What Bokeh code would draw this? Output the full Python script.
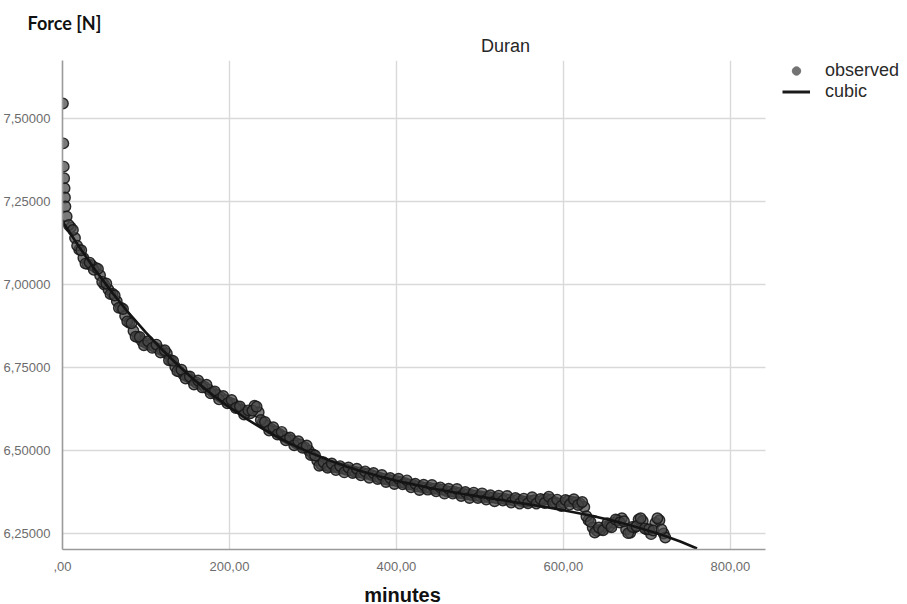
from bokeh.plotting import figure
from bokeh.models import Range1d, FixedTicker, Legend, LegendItem, ColumnDataSource, Label
from bokeh.embed import file_html
from bokeh.resources import INLINE

# ---------------- data ----------------
start_minutes = [0.5, 1.0, 1.5, 2.0, 2.5, 3.0, 3.5]
start_force = [7.545, 7.425, 7.355, 7.320, 7.290, 7.262, 7.235]

obs_minutes = list(range(5, 725, 5)) + [722]
obs_force = [
    7.205, 7.172, 7.140, 7.105, 7.080, 7.062, 7.058, 7.050, 7.028, 7.000,
    6.985, 6.972, 6.950, 6.930, 6.905, 6.885, 6.860, 6.842, 6.830, 6.824,
    6.818, 6.812, 6.806, 6.800, 6.792, 6.772, 6.752, 6.738, 6.728, 6.722,
    6.712, 6.705, 6.700, 6.692, 6.684, 6.676, 6.668, 6.660, 6.652, 6.645,
    6.640, 6.632, 6.622, 6.615, 6.612, 6.635, 6.615, 6.585, 6.575, 6.565,
    6.558, 6.550, 6.542, 6.536, 6.530, 6.522, 6.518, 6.510, 6.500, 6.488,
    6.470, 6.458, 6.455, 6.452, 6.450, 6.448, 6.446, 6.442, 6.440, 6.436,
    6.434, 6.432, 6.430, 6.426, 6.422, 6.418, 6.414, 6.412, 6.410, 6.408,
    6.405, 6.402, 6.398, 6.396, 6.392, 6.390, 6.388, 6.387, 6.385, 6.384,
    6.382, 6.378, 6.376, 6.375, 6.372, 6.370, 6.368, 6.366, 6.364, 6.362,
    6.360, 6.360, 6.358, 6.356, 6.355, 6.354, 6.352, 6.350, 6.352, 6.348,
    6.346, 6.348, 6.350, 6.346, 6.350, 6.354, 6.352, 6.344, 6.340, 6.342,
    6.348, 6.346, 6.344, 6.340, 6.330, 6.290, 6.268, 6.258, 6.262, 6.270,
    6.272, 6.282, 6.290, 6.296, 6.262, 6.252, 6.268, 6.292, 6.288, 6.262,
    6.248, 6.282, 6.290, 6.250,
    6.238,
]

mid_minutes = [m + 2.5 for m in range(5, 720, 5)]
mid_force = [
    7.179, 7.164, 7.117, 7.103, 7.063, 7.066, 7.044, 7.047, 7.008, 7.003,
    6.971, 6.967, 6.930, 6.926, 6.889, 6.883, 6.843, 6.842, 6.817, 6.829,
    6.809, 6.819, 6.795, 6.802, 6.772, 6.770, 6.739, 6.743, 6.717, 6.723,
    6.699, 6.711, 6.690, 6.698, 6.672, 6.678, 6.654, 6.664, 6.642, 6.652,
    6.628, 6.633, 6.608, 6.621, 6.620, 6.632, 6.592, 6.586, 6.560, 6.570,
    6.548, 6.556, 6.531, 6.539, 6.516, 6.528, 6.508, 6.515, 6.486, 6.485,
    6.454, 6.465, 6.448, 6.461, 6.441, 6.453, 6.434, 6.449, 6.432, 6.445,
    6.425, 6.437, 6.418, 6.432, 6.414, 6.426, 6.405, 6.417, 6.399, 6.415,
    6.398, 6.410, 6.389, 6.400, 6.381, 6.397, 6.382, 6.396, 6.377, 6.389,
    6.370, 6.385, 6.370, 6.384, 6.363, 6.375, 6.357, 6.373, 6.357, 6.371,
    6.352, 6.365, 6.347, 6.364, 6.349, 6.363, 6.343, 6.357, 6.340, 6.355,
    6.341, 6.359, 6.340, 6.354, 6.342, 6.361, 6.342, 6.352, 6.333, 6.351,
    6.337, 6.353, 6.336, 6.345, 6.302, 6.285, 6.253, 6.268, 6.260, 6.281,
    6.269, 6.292, 6.283, 6.287, 6.251, 6.270, 6.272, 6.296, 6.265, 6.263,
    6.259, 6.296, 6.262,
]

fit_minutes = list(range(0, 780, 20))
fit_force = [
    7.190, 7.113, 7.041, 6.974, 6.912, 6.855, 6.802, 6.753, 6.708, 6.667,
    6.630, 6.596, 6.565, 6.537, 6.512, 6.490, 6.470, 6.452, 6.436, 6.422,
    6.409, 6.398, 6.387, 6.378, 6.369, 6.361, 6.353, 6.345, 6.337, 6.329,
    6.320, 6.310, 6.300, 6.288, 6.275, 6.260, 6.244, 6.226, 6.205,
]

x_ticks = [0, 200, 400, 600, 800]
x_tick_labels = [",00", "200,00", "400,00", "600,00", "800,00"]
y_ticks = [6.25, 6.5, 6.75, 7.0, 7.25, 7.5]
y_tick_labels = ["6,25000", "6,50000", "6,75000", "7,00000", "7,25000", "7,50000"]
x_axis_extent = (0, 842)          # drawn part of the x axis
y_axis_extent = (6.2018, 7.6747)

title_text = "Duran"
y_title = "Force [N]"
x_title = "minutes"
legend_labels = ["observed", "cubic"]

# ---------------- figure ----------------
W, H = 907, 604
LEFT, TOP, BOTTOM = 62, 60, 55
frame_w = W - LEFT
px_per_min = 703.0 / (x_axis_extent[1] - x_axis_extent[0])
p = figure(width=W, height=H, output_backend="svg", toolbar_location=None,
           x_range=Range1d(0, frame_w / px_per_min), y_range=Range1d(*y_axis_extent),
           min_border_left=LEFT, min_border_right=0, min_border_top=TOP, min_border_bottom=BOTTOM)
p.outline_line_color = None
p.background_fill_color = "white"
p.border_fill_color = "white"

for ax, ticks, labels in ((p.xaxis[0], x_ticks, x_tick_labels), (p.yaxis[0], y_ticks, y_tick_labels)):
    ax.ticker = FixedTicker(ticks=ticks)
    ax.major_label_overrides = {t: l for t, l in zip(ticks, labels)}
    ax.major_tick_line_color = None
    ax.minor_tick_line_color = None
    ax.major_label_text_font = "Liberation Sans"
    ax.major_label_text_font_size = "13px"
    ax.major_label_text_color = "#6c6c6c"
    ax.major_label_standoff = 6
    ax.axis_line_color = "#9a9a9a"
    ax.axis_line_width = 1.6
p.xaxis[0].bounds = x_axis_extent

grid_color, grid_width = "#d9d9d9", 1.4
p.xgrid.ticker = FixedTicker(ticks=x_ticks)
p.xgrid.grid_line_color = grid_color
p.xgrid.grid_line_width = grid_width
p.ygrid.visible = False
# horizontal grid lines, limited to the axis extent
p.segment(x0=[x_axis_extent[0]] * len(y_ticks), x1=[x_axis_extent[1]] * len(y_ticks),
          y0=y_ticks, y1=y_ticks, line_color=grid_color, line_width=grid_width)

obs_src = ColumnDataSource(dict(x=start_minutes + obs_minutes + mid_minutes,
                                y=start_force + obs_force + mid_force))
r_obs = p.scatter("x", "y", source=obs_src, marker="circle", size=10.5,
                  fill_color="#474747", fill_alpha=0.72, line_color="#181818", line_alpha=0.9, line_width=1.4)
# legend swatch style for "observed" (same data, not drawn in the plot)
r_obs_key = p.scatter("x", "y", source=obs_src, marker="circle", size=8,
                      fill_color="#737373", line_color="#737373", visible=False)

fit_src = ColumnDataSource(dict(x=fit_minutes, y=fit_force))
r_fit = p.line("x", "y", source=fit_src, line_color="#141414", line_width=2.6)
r_fit_key = p.line("x", "y", source=fit_src, line_color="#1a1a1a", line_width=3, visible=False)

legend = Legend(items=[LegendItem(label=legend_labels[0], renderers=[r_obs_key], index=0),
                       LegendItem(label=legend_labels[1], renderers=[r_fit_key])],
                location=(720, 447), orientation="vertical",
                border_line_color=None, background_fill_alpha=0,
                glyph_width=28, glyph_height=21, label_height=21, spacing=0,
                padding=0, margin=0, label_standoff=15,
                label_text_font="Liberation Sans", label_text_font_size="18px",
                label_text_color="#2a2a2a", label_text_baseline="middle")
p.add_layout(legend, "center")

# texts placed in the side panels (screen units relative to each panel slot)
p.add_layout(Label(x=443, y=15, x_units="screen", y_units="screen", text=title_text,
                   text_font="Liberation Sans", text_font_size="18px", text_color="#262626",
                   text_align="center", text_baseline="middle"), "above")
p.add_layout(Label(x=-35, y=18, x_units="screen", y_units="screen", text=y_title,
                   text_font="Lato", text_font_style="bold", text_font_size="18px", text_color="#111111",
                   text_align="left", text_baseline="middle"), "above")
p.add_layout(Label(x=340, y=1, x_units="screen", y_units="screen", text=x_title,
                   text_font="Liberation Sans", text_font_style="bold", text_font_size="20px", text_color="#111111",
                   text_align="center", text_baseline="middle"), "below")

open("out.html", "w").write(file_html(p, INLINE))
